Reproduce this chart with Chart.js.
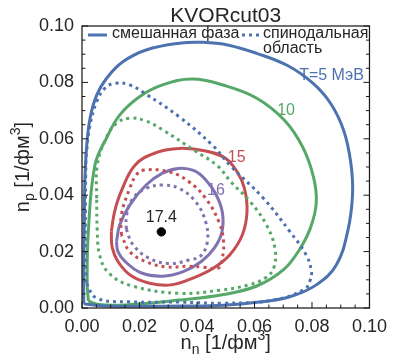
<!DOCTYPE html>
<html><head><meta charset="utf-8">
<script src="https://cdn.jsdelivr.net/npm/chart.js@4"></script>
<style>html,body{margin:0;padding:0;background:#fff;}</style>
</head><body>
<canvas id="c" width="395" height="359"></canvas>
<script>
// ---- data (n_n, n_p) in 1/fm^3 ----
const mixed5 = [[0.0006,0.0015],[0.0006,0.015],[0.0008,0.03],[0.001,0.045],[0.0016,0.057],[0.0028,0.0673],[0.0051,0.0755],[0.0085,0.0814],[0.0142,0.0873],[0.0223,0.0915],[0.0338,0.0939],[0.042,0.0942],[0.051,0.0932],[0.0608,0.0903],[0.0718,0.0858],[0.0803,0.0797],[0.0865,0.0725],[0.091,0.063],[0.0935,0.0515],[0.0941,0.0401],[0.0924,0.0271],[0.0884,0.0152],[0.0815,0.0082],[0.0723,0.004],[0.0608,0.002],[0.0493,0.001],[0.035,0.0007],[0.02,0.0006],[0.008,0.0007],[0.0006,0.0015]];
const spinodal5 = [[0.0014,0.009],[0.0012,0.02],[0.0012,0.035],[0.0013,0.048],[0.0016,0.0554],[0.0028,0.0649],[0.0051,0.0732],[0.0079,0.0779],[0.0115,0.0797],[0.0166,0.0791],[0.0223,0.0758],[0.0338,0.0678],[0.0453,0.0578],[0.0516,0.0505],[0.0631,0.0389],[0.0723,0.0271],[0.078,0.0188],[0.0798,0.0129],[0.0794,0.0099],[0.0775,0.0067],[0.0666,0.0028],[0.0493,0.0017],[0.0338,0.0021],[0.0166,0.0022],[0.0051,0.0035],[0.0014,0.009]];
const mixed10 = [[0.0022,0.0025],[0.0018,0.009],[0.0022,0.027],[0.0045,0.0507],[0.0085,0.0602],[0.0131,0.0684],[0.02,0.0749],[0.028,0.0791],[0.0384,0.0812],[0.0493,0.079],[0.0608,0.0744],[0.0705,0.0665],[0.0768,0.057],[0.0805,0.0465],[0.0815,0.0375],[0.0795,0.0285],[0.0755,0.0205],[0.07,0.0135],[0.0608,0.0078],[0.0493,0.0048],[0.0338,0.0028],[0.0166,0.0012],[0.006,0.0012],[0.0022,0.0025]];
const spinodal10 = [[0.0051,0.0389],[0.0053,0.0507],[0.0085,0.0605],[0.012,0.0655],[0.0166,0.0673],[0.0223,0.0663],[0.028,0.0632],[0.0395,0.0556],[0.047,0.0505],[0.052,0.0445],[0.0585,0.0377],[0.0642,0.0294],[0.0671,0.0212],[0.0668,0.0145],[0.064,0.0108],[0.058,0.0082],[0.048,0.0063],[0.0338,0.0052],[0.0175,0.0078],[0.0095,0.0122],[0.0062,0.0185],[0.0053,0.0275],[0.0051,0.0389]];
const mixed15 = [[0.0102,0.0271],[0.0113,0.034],[0.0135,0.041],[0.0185,0.0507],[0.0258,0.0551],[0.0338,0.0566],[0.043,0.0557],[0.0499,0.0531],[0.054,0.0482],[0.0565,0.0424],[0.0574,0.0342],[0.0558,0.026],[0.0515,0.019],[0.0459,0.0143],[0.039,0.0108],[0.031,0.0082],[0.0235,0.0088],[0.017,0.0115],[0.0125,0.0165],[0.0105,0.0215],[0.0102,0.0271]];
const spinodal15 = [[0.0137,0.0259],[0.0137,0.033],[0.0166,0.0424],[0.0189,0.0472],[0.0215,0.0489],[0.0303,0.0483],[0.0372,0.0448],[0.043,0.0389],[0.0476,0.0306],[0.0492,0.024],[0.0488,0.0175],[0.0475,0.0142],[0.042,0.0145],[0.0372,0.0148],[0.0292,0.0146],[0.0223,0.0164],[0.0166,0.02],[0.0137,0.0259]];
const mixed16 = [[0.012,0.0235],[0.0131,0.0294],[0.0166,0.0365],[0.0223,0.0436],[0.028,0.0478],[0.0335,0.0495],[0.039,0.0487],[0.043,0.0455],[0.0465,0.0405],[0.0488,0.034],[0.0487,0.027],[0.046,0.0212],[0.0415,0.0165],[0.035,0.0128],[0.028,0.0113],[0.0205,0.0125],[0.015,0.0165],[0.0125,0.02],[0.012,0.0235]];
const spinodal16 = [[0.0154,0.028],[0.0155,0.033],[0.0177,0.0389],[0.0223,0.0424],[0.028,0.0436],[0.0338,0.0424],[0.0395,0.0377],[0.043,0.0306],[0.0436,0.0235],[0.0413,0.0185],[0.0372,0.017],[0.0303,0.0158],[0.0234,0.0176],[0.0177,0.0225],[0.0154,0.028]];
const criticalPoint = [[0.0276,0.027]];
const temperatures = ['T=5 МэВ','10','15','16','17.4'];
const labelPositions = [[0.0868,0.0823],[0.071,0.0699],[0.0538,0.0532],[0.0466,0.0418],[0.0276,0.0319]];
const xTicks = [0,0.02,0.04,0.06,0.08,0.10];
const yTicks = [0,0.02,0.04,0.06,0.08,0.10];
const legendLabels = ['смешанная фаза','спинодальная','область'];
const titleText = 'KVORcut03';

const colors = ['#4C72B0','#55A868','#C44E52','#8172B2','#000000'];
const FONT = '"Liberation Sans", Arial, sans-serif';
const TXT = '#262626';

const pts = a => a.map(p => ({x:p[0], y:p[1]}));
function curve(arr, color, dotted){
  return {data: pts(arr), showLine:true, borderColor:color, backgroundColor:color,
    borderWidth:3, pointRadius:0, pointHoverRadius:0, tension:0.4, fill:false,
    borderDash: dotted ? [3,4] : [], borderCapStyle:'butt', borderJoinStyle:'round',
    order: dotted ? 1 : 2};
}
const datasets = [
  curve(mixed5, colors[0], false), curve(spinodal5, colors[0], true),
  curve(mixed10, colors[1], false), curve(spinodal10, colors[1], true),
  curve(mixed15, colors[2], false), curve(spinodal15, colors[2], true),
  curve(mixed16, colors[3], false), curve(spinodal16, colors[3], true),
  {data: pts(criticalPoint), pointRadius:4.2, pointBackgroundColor:'#000', pointBorderColor:'#000', showLine:false, order:0}
];

function drawParts(ctx, parts, cx, y){
  let w = 0;
  parts.forEach(p => { ctx.font = p[1]+'px '+FONT; w += ctx.measureText(p[0]).width; });
  let x = cx - w/2;
  parts.forEach(p => { ctx.font = p[1]+'px '+FONT; ctx.fillText(p[0], x, y + p[2]); x += ctx.measureText(p[0]).width; });
}

const overlay = {
  id:'overlay',
  afterDraw(chart){
    const {ctx, chartArea:a, scales:{x, y}} = chart;
    ctx.save();
    // frame
    ctx.strokeStyle = '#1a1a1a'; ctx.lineWidth = 1.25;
    ctx.strokeRect(a.left, a.top, a.right - a.left, a.bottom - a.top);
    // inward ticks
    ctx.lineWidth = 1;
    for (let i = 0; i <= 20; i++){
      const v = i * 0.005;
      const major = i % 4 === 0;
      const L = major ? 6 : 3.5;
      const px = x.getPixelForValue(v), py = y.getPixelForValue(v);
      ctx.beginPath();
      ctx.moveTo(px, a.bottom); ctx.lineTo(px, a.bottom - L);
      ctx.moveTo(a.left, py); ctx.lineTo(a.left + L, py);
      ctx.moveTo(a.right, py); ctx.lineTo(a.right - L, py);
      ctx.stroke();
    }
    // title
    ctx.fillStyle = TXT; ctx.textAlign = 'center'; ctx.textBaseline = 'alphabetic';
    ctx.font = '21px ' + FONT;
    ctx.fillText(titleText, (a.left + a.right)/2, 22);
    // axis titles
    ctx.textAlign = 'left';
    drawParts(ctx, [['n',20,0],['n',14,5],[' [1/фм',20,0],['3',14,-9],[']',20,0]], (a.left+a.right)/2, 349);
    ctx.save();
    ctx.translate(29, (a.top + a.bottom)/2);
    ctx.rotate(-Math.PI/2);
    drawParts(ctx, [['n',20,0],['p',14,5],[' [1/фм',20,0],['3',14,-9],[']',20,0]], 0, 0);
    ctx.restore();
    // curve labels
    ctx.textAlign = 'center'; ctx.textBaseline = 'middle';
    ctx.font = '16px ' + FONT;
    temperatures.forEach((t, i) => {
      ctx.fillStyle = i === 4 ? TXT : colors[i];
      ctx.fillText(t, x.getPixelForValue(labelPositions[i][0]), y.getPixelForValue(labelPositions[i][1]));
    });
    // legend
    ctx.lineWidth = 3; ctx.strokeStyle = colors[0];
    ctx.setLineDash([]); ctx.lineCap = 'butt';
    ctx.beginPath(); ctx.moveTo(88, 35); ctx.lineTo(107, 35); ctx.stroke();
    ctx.setLineDash([3,4]);
    ctx.beginPath(); ctx.moveTo(242, 35); ctx.lineTo(259, 35); ctx.stroke();
    ctx.setLineDash([]);
    ctx.fillStyle = TXT; ctx.textAlign = 'left'; ctx.textBaseline = 'middle';
    ctx.fillText(legendLabels[0], 112, 34);
    ctx.fillText(legendLabels[1], 263, 34);
    ctx.fillText(legendLabels[2], 263, 49);
    ctx.restore();
  }
};

const tickFont = {family: FONT, size: 18};
new Chart(document.getElementById('c'), {
  type:'scatter',
  data:{datasets},
  options:{
    responsive:false, animation:false, devicePixelRatio:1,
    layout:{padding:{top:26, right:23, left:0, bottom:0}},
    plugins:{legend:{display:false}, tooltip:{enabled:false}, title:{display:false}},
    scales:{
      x:{type:'linear', min:0, max:0.1,
        afterBuildTicks(s){ s.ticks = xTicks.map(v => ({value:v})); },
        afterFit(s){ s.height = 51; },
        ticks:{callback:v => Number(v).toFixed(2), font:tickFont, color:TXT, padding:8, maxRotation:0, autoSkip:false},
        grid:{display:false, drawTicks:false}, border:{display:false}},
      y:{type:'linear', min:0, max:0.1,
        afterBuildTicks(s){ s.ticks = yTicks.map(v => ({value:v})); },
        afterFit(s){ s.width = 82; },
        ticks:{callback:v => Number(v).toFixed(2), font:tickFont, color:TXT, padding:8, autoSkip:false},
        grid:{display:false, drawTicks:false}, border:{display:false}}
    }
  },
  plugins:[overlay]
});
</script>
</body></html>
